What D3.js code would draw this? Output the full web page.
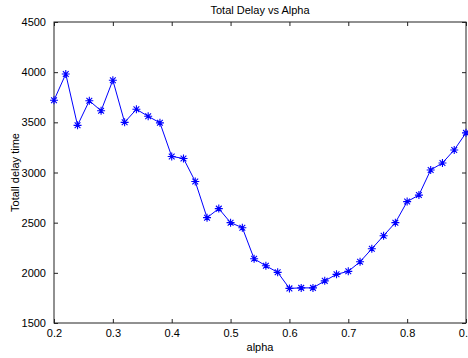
<!DOCTYPE html>
<html><head><meta charset="utf-8">
<script src="https://cdn.jsdelivr.net/npm/d3@7"></script>
<style>
html,body{margin:0;padding:0;background:#fff;overflow:hidden;}
text{font-family:"Liberation Sans",Arial,Helvetica,sans-serif;}
</style></head>
<body>
<script>
const alphaValues = [0.20,0.22,0.24,0.26,0.28,0.30,0.32,0.34,0.36,0.38,0.40,0.42,0.44,0.46,0.48,0.50,0.52,0.54,0.56,0.58,0.60,0.62,0.64,0.66,0.68,0.70,0.72,0.74,0.76,0.78,0.80,0.82,0.84,0.86,0.88,0.90];
const delayValues = [3720,3982,3470,3715,3615,3920,3500,3630,3560,3495,3160,3140,2910,2550,2640,2500,2450,2140,2070,2005,1845,1850,1850,1920,1985,2015,2110,2240,2370,2500,2710,2775,3025,3095,3225,3395];
const xTicks = [0.2,0.3,0.4,0.5,0.6,0.7,0.8,0.9];
const yTicks = [1500,2000,2500,3000,3500,4000,4500];
const titleText = "Total Delay vs Alpha";
const xLabelText = "alpha";
const yLabelText = "Totall delay time";

const W = 468, H = 358;
const m = {left:54, right:2, top:22, bottom:35};
const svg = d3.select("body").append("svg").attr("width", W).attr("height", H);

const x = d3.scaleLinear().domain([0.2,0.9]).range([m.left, W - m.right]);
const y = d3.scaleLinear().domain([1500,4500]).range([H - m.bottom, m.top]);

const axisColor = "#222";
const fs = 11;
// box
svg.append("rect").attr("x", x(0.2)).attr("y", y(4500))
  .attr("width", x(0.9)-x(0.2)).attr("height", y(1500)-y(4500))
  .attr("fill","none").attr("stroke",axisColor).attr("stroke-width",1);

const fmtX = d3.format(".1f");
// bottom axis
const xb = svg.append("g").attr("transform",`translate(0,${y(1500)})`)
  .call(d3.axisBottom(x).tickValues(xTicks).tickSizeInner(-4).tickSizeOuter(0).tickPadding(6).tickFormat(fmtX));
// top axis
const xt = svg.append("g").attr("transform",`translate(0,${y(4500)})`)
  .call(d3.axisTop(x).tickValues(xTicks).tickSizeInner(-4).tickSizeOuter(0).tickFormat(""));
// left axis
const yl = svg.append("g").attr("transform",`translate(${x(0.2)},0)`)
  .call(d3.axisLeft(y).tickValues(yTicks).tickSizeInner(-4).tickSizeOuter(0).tickPadding(8).tickFormat(d3.format("d")));
// right axis
const yr = svg.append("g").attr("transform",`translate(${x(0.9)},0)`)
  .call(d3.axisRight(y).tickValues(yTicks).tickSizeInner(-4).tickSizeOuter(0).tickFormat(""));

[xb,xt,yl,yr].forEach(g=>{
  g.select(".domain").remove();
  g.selectAll("line").attr("stroke",axisColor);
  g.selectAll("text").attr("fill","#000").style("font-size",fs+"px").style("font-family",'"Liberation Sans",Arial,sans-serif');
});

// line
const pts = alphaValues.map((a,i)=>[a, delayValues[i]]);
svg.append("path").datum(pts)
  .attr("fill","none").attr("stroke","#0000ff").attr("stroke-width",1)
  .attr("d", d3.line().x(d=>x(d[0])).y(d=>y(d[1])));

// asterisk markers
const r = 4;
const mk = svg.append("g").attr("stroke","#0000ff").attr("stroke-width",1.1);
pts.forEach(d=>{
  const cx = x(d[0]), cy = y(d[1]);
  const dd = r*0.72;
  mk.append("path").attr("d",
    `M${cx-r},${cy}L${cx+r},${cy}M${cx},${cy-r}L${cx},${cy+r}` +
    `M${cx-dd},${cy-dd}L${cx+dd},${cy+dd}M${cx-dd},${cy+dd}L${cx+dd},${cy-dd}`);
});

// title
svg.append("text").attr("x", (x(0.2)+x(0.9))/2).attr("y", 14)
  .attr("text-anchor","middle").style("font-size",fs+"px").text(titleText);
// x label
svg.append("text").attr("x", (x(0.2)+x(0.9))/2).attr("y", 351)
  .attr("text-anchor","middle").style("font-size",fs+"px").text(xLabelText);
// y label
svg.append("text").attr("transform",`translate(19,${(y(1500)+y(4500))/2}) rotate(-90)`)
  .attr("text-anchor","middle").style("font-size",fs+"px").text(yLabelText);
</script>
</body></html>
